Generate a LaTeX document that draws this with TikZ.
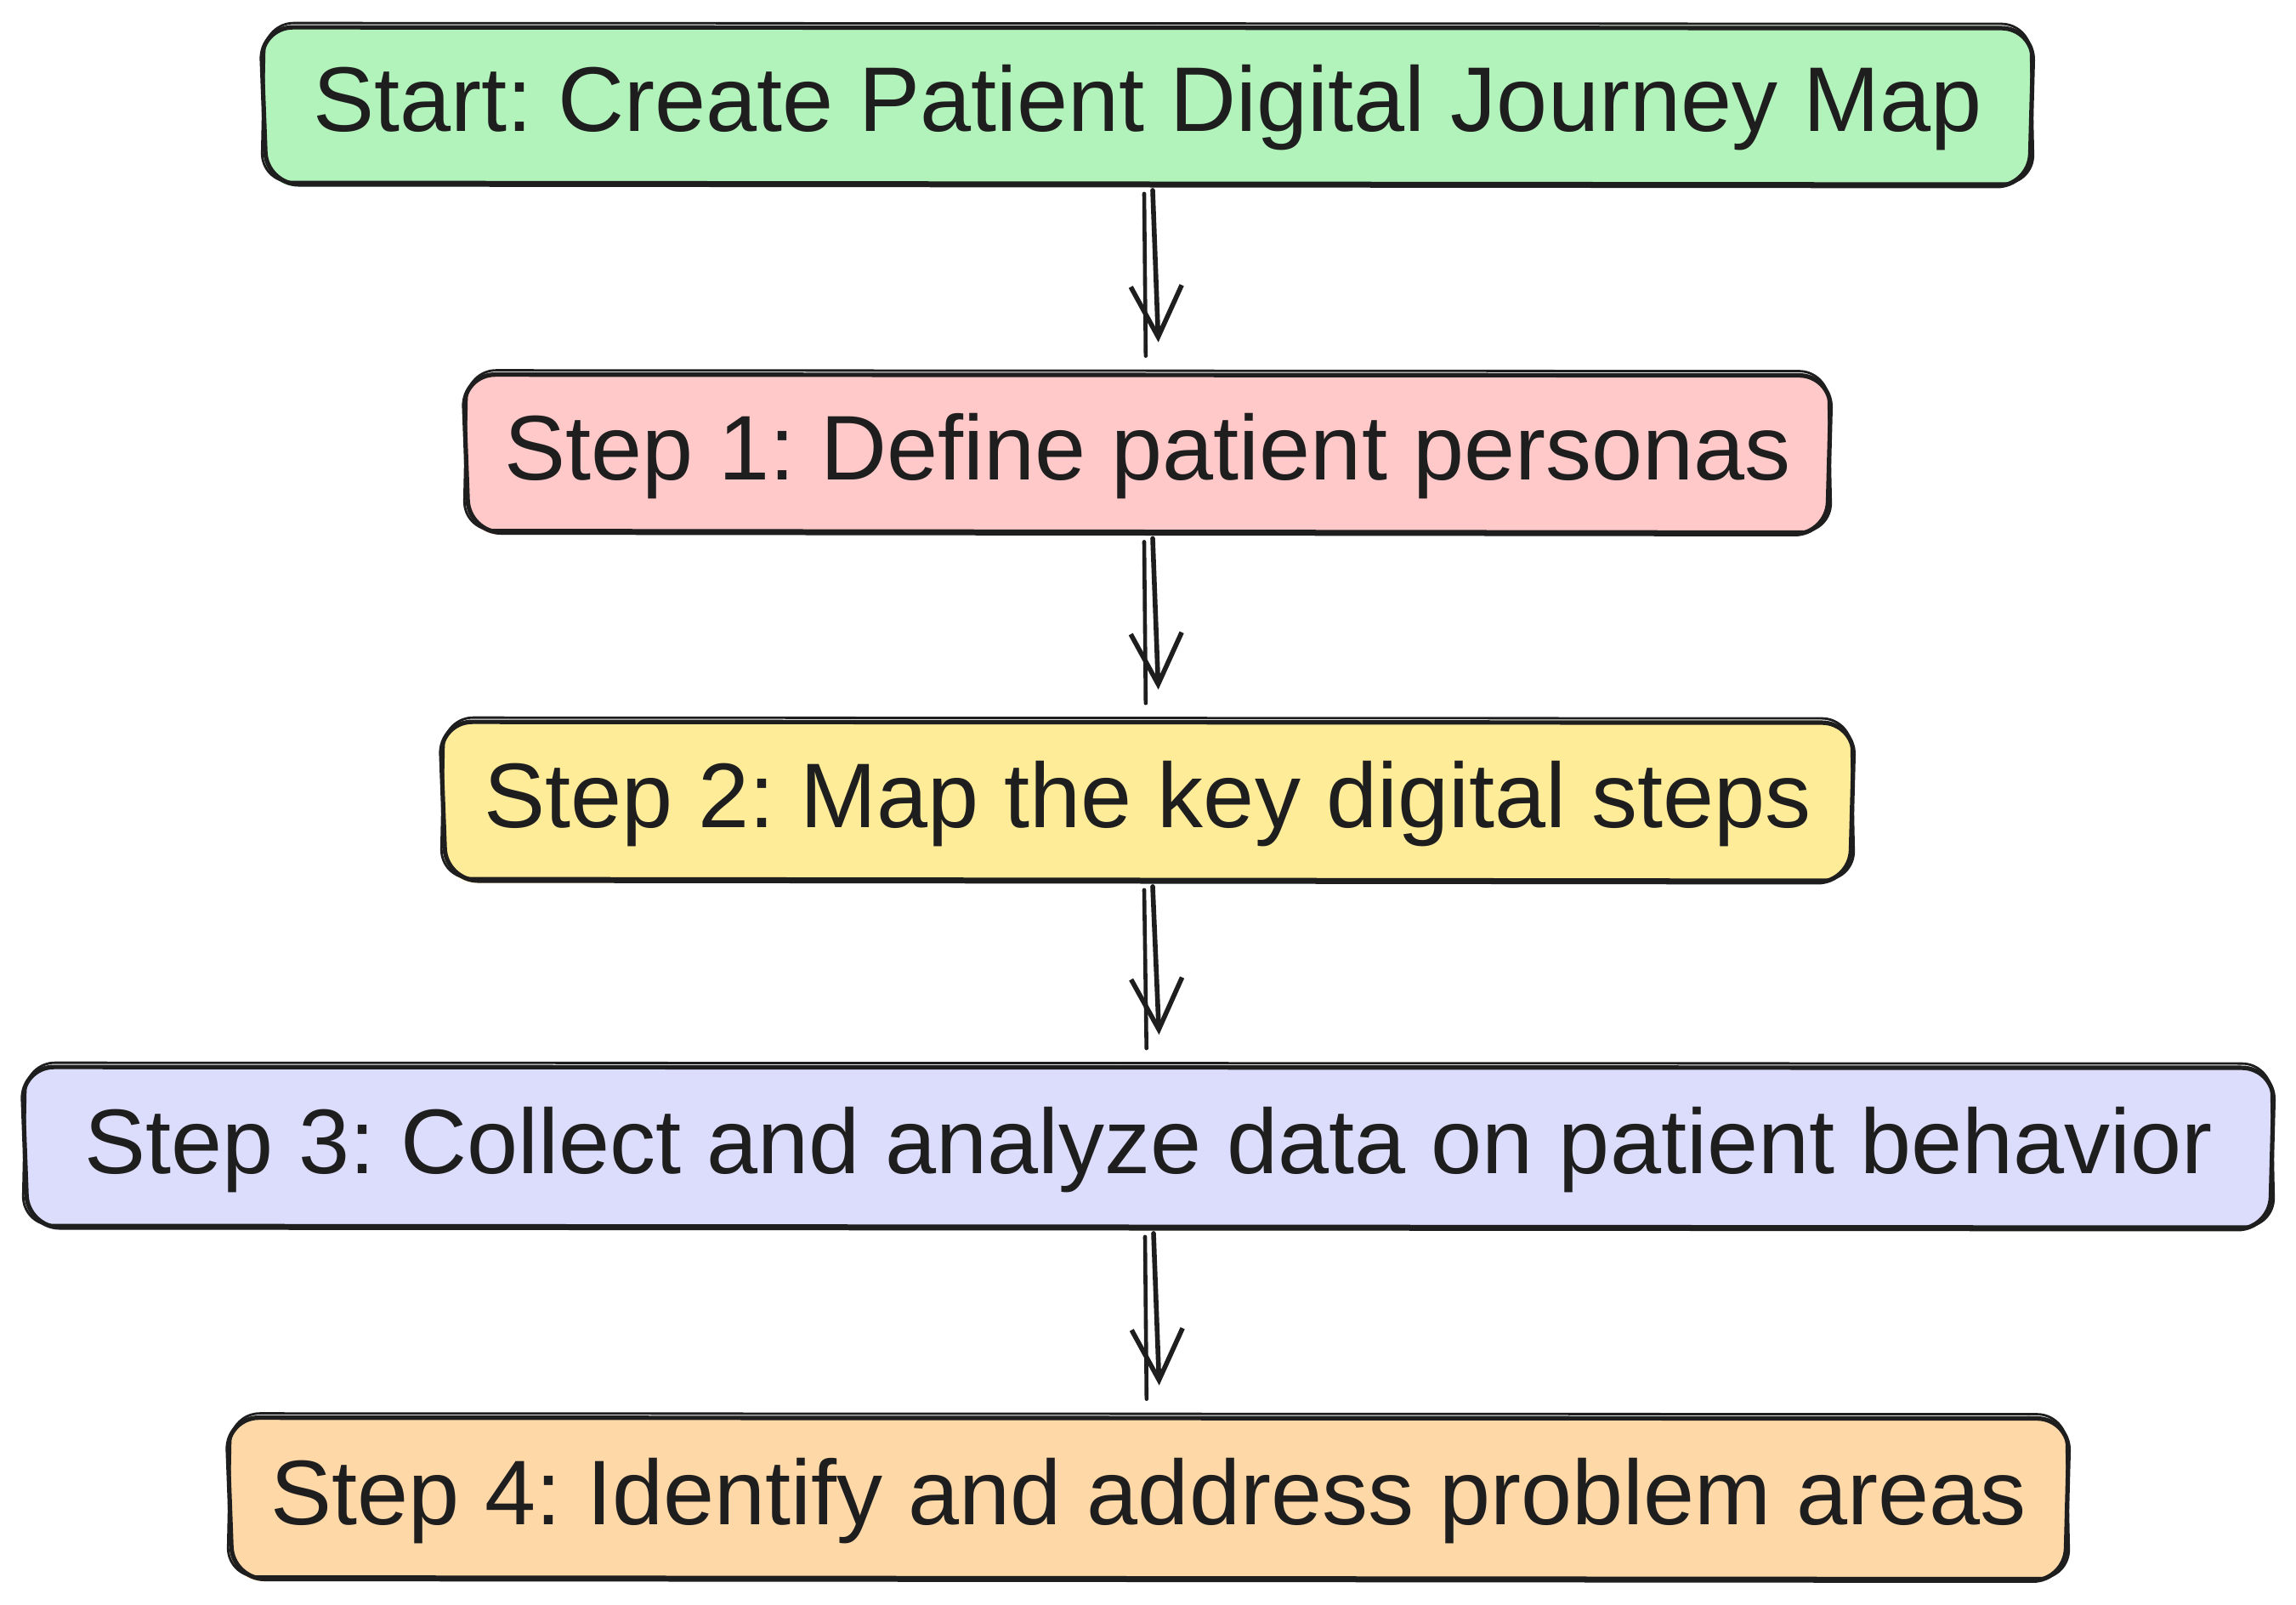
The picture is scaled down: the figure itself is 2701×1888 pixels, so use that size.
\documentclass[tikz,border=0pt]{standalone}
\usepackage{fontspec}
\setmainfont{Liberation Sans}
\usetikzlibrary{arrows.meta,calc}
\frenchspacing
\definecolor{ink}{HTML}{1E1E1E}
\definecolor{cgreen}{HTML}{B2F2BB}
\definecolor{cpink}{HTML}{FFC9C9}
\definecolor{cyellow}{HTML}{FFEC99}
\definecolor{clav}{HTML}{DCDCFC}
\definecolor{corange}{HTML}{FFD8A8}
\tikzset{
  boxnode/.style={rounded corners=20pt, inner sep=0pt, text=ink,
    font=\fontsize{54}{60}\selectfont, text height=39pt, text depth=9pt, align=center},
  skline/.style={draw=ink, line width=2.6pt, rounded corners=19pt, line cap=round, line join=round},
  skthin/.style={draw=ink, line width=1.4pt, rounded corners=17pt, line cap=round, line join=round},
  arr/.style={draw=ink, line width=2.8pt, line cap=round,
    -{Straight Barb[length=30pt,width=30pt,line width=2.8pt]}},
  arrthin/.style={draw=ink, line width=2.3pt, line cap=round}
}
\newcommand\skbox[1]{%
  \draw[skline] ($(#1.south west)+(4,-3)$) -- ($(#1.south east)+(-3,-1)$) -- ($(#1.north east)+(2,3)$) -- ($(#1.north west)+(-3,2)$) -- cycle;
  \draw[skthin] ($(#1.south west)+(-2,-6)$) -- ($(#1.south east)+(2,-4)$) -- ($(#1.north east)+(-2,-2)$) -- ($(#1.north west)+(2,-3)$) -- cycle;
}
\begin{document}
\begin{tikzpicture}[x=0.5pt,y=-0.5pt]
\useasboundingbox (0,0) rectangle (2701,1888);
\fill[white] (0,0) rectangle (2701,1888);
\node[boxnode, fill=cgreen, minimum width=1040pt, minimum height=94.5pt] (s0) at (1350,125) {Start: Create Patient Digital Journey Map};
\node[boxnode, fill=cpink, minimum width=802pt, minimum height=95pt] (s1) at (1350,534) {Step 1: Define patient personas};
\node[boxnode, fill=cyellow, minimum width=829pt, minimum height=95.5pt] (s2) at (1350,943) {Step 2: Map the key digital steps};
\node[boxnode, fill=clav, minimum width=1322pt, minimum height=96.5pt] (s3) at (1351,1350) {Step 3: Collect and analyze data on patient behavior};
\node[boxnode, fill=corange, minimum width=1081pt, minimum height=97pt] (s4) at (1351,1763) {Step 4: Identify and address problem areas};
\foreach \n in {s0,s1,s2,s3,s4} {\skbox{\n}}
\foreach \a/\b in {s0/s1,s1/s2,s2/s3,s3/s4} {
  \draw[arr, shorten >=18pt] ([xshift=3pt,yshift=-2pt]\a.south) -- ([xshift=7pt]\b.north);
  \draw[arrthin, shorten >=10pt] ([xshift=-2pt,yshift=-4pt]\a.south) -- ([xshift=-1pt]\b.north);
}
\end{tikzpicture}
\end{document}
